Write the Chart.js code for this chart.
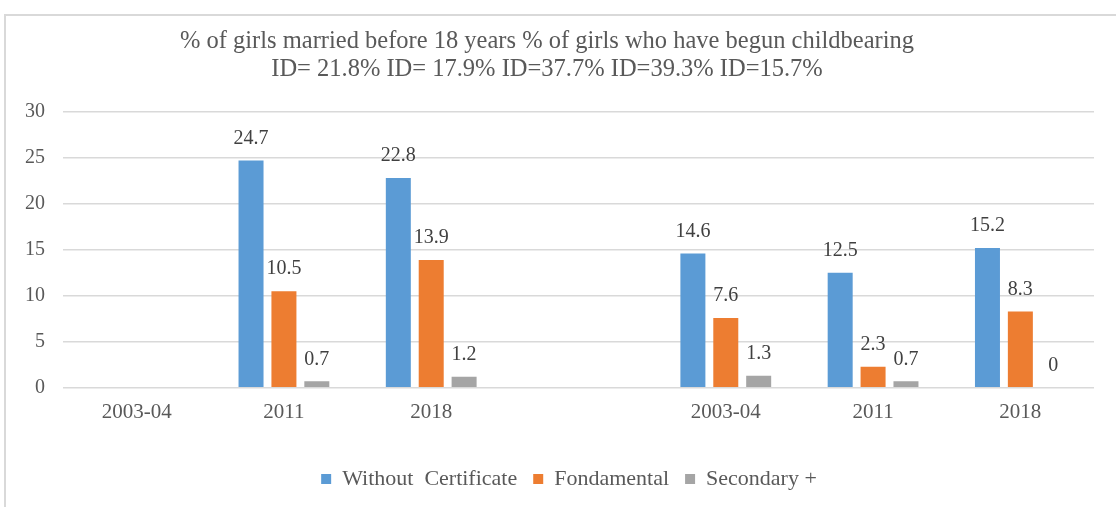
<!DOCTYPE html>
<html>
<head>
<meta charset="utf-8">
<script src="https://cdn.jsdelivr.net/npm/chart.js@4/dist/chart.umd.min.js"></script>
<style>
  html, body { margin: 0; padding: 0; background: #fff; }
  #wrap { position: relative; width: 1116px; height: 507px; }
  #frame { position: absolute; left: 4px; top: 14px; right: 0; bottom: 0;
           border-top: 2px solid #d9d9d9; border-left: 2px solid #d9d9d9; }
  canvas { position: absolute; left: 0; top: 0; }
</style>
</head>
<body>
<div id="wrap">
  <div id="frame"></div>
  <canvas id="chart" width="1116" height="507"></canvas>
</div>
<script>
// categorías (la 4ª vacía separa los dos grupos)
const categories = ['2003-04', '2011', '2018', '', '2003-04', '2011', '2018'];
const withoutCert = [null, 24.7, 22.8, null, 14.6, 12.5, 15.2];
const fondamental = [null, 10.5, 13.9, null, 7.6, 2.3, 8.3];
const secondary = [null, 0.7, 1.2, null, 1.3, 0.7, 0];
const yTicks = [0, 5, 10, 15, 20, 25, 30];

const serif = "'Liberation Serif', 'Times New Roman', serif";
const gray = '#595959';

// etiquetas de valor encima de cada barra
const valueLabels = {
    id: 'valueLabels',
    afterDatasetsDraw(chart) {
        const ctx = chart.ctx;
        ctx.save();
        ctx.font = '20px ' + serif;
        ctx.fillStyle = '#404040';
        ctx.textAlign = 'center';
        ctx.textBaseline = 'middle';
        chart.data.datasets.forEach((ds, i) => {
            const meta = chart.getDatasetMeta(i);
            meta.data.forEach((bar, j) => {
                const v = ds.data[j];
                if (v === null) return;
                ctx.fillText(String(v), bar.x, bar.y - 22);
            });
        });
        ctx.restore();
    }
};

// la leyenda está un poco desplazada a la derecha en el original
const legendShift = {
    id: 'legendShift',
    afterLayout(chart) {
        if (chart.legend) {
            chart.legend.left += 22;
            chart.legend.right += 22;
        }
    }
};

new Chart(document.getElementById('chart'), {
    type: 'bar',
    data: {
        labels: categories,
        datasets: [
            { label: 'Without  Certificate', data: withoutCert, backgroundColor: '#5B9BD5' },
            { label: 'Fondamental', data: fondamental, backgroundColor: '#ED7D31' },
            { label: 'Secondary +', data: secondary, backgroundColor: '#A5A5A5' }
        ]
    },
    options: {
        responsive: false,
        animation: false,
        categoryPercentage: 0.67,
        barPercentage: 0.76,
        layout: { padding: { left: 0, right: 22, top: 28, bottom: 7 } },
        plugins: {
            title: {
                display: true,
                text: ['% of girls married before 18 years % of girls who have begun childbearing',
                       'ID= 21.8% ID= 17.9% ID=37.7% ID=39.3% ID=15.7%'],
                color: gray,
                font: { family: serif, size: 24.5, weight: 'normal', lineHeight: 1.14 },
                padding: { top: 0, bottom: 28 }
            },
            legend: {
                position: 'bottom',
                labels: {
                    color: gray,
                    font: { family: serif, size: 22 },
                    boxWidth: 10,
                    boxHeight: 10,
                    padding: 16
                }
            },
            tooltip: { enabled: false }
        },
        scales: {
            x: {
                grid: { display: false, drawTicks: false },
                border: { display: false },
                afterFit(scale) { scale.height += 15; },
                ticks: { color: gray, font: { family: serif, size: 21 }, padding: 12 }
            },
            y: {
                min: 0,
                max: 30,
                afterBuildTicks(scale) {
                    scale.ticks = yTicks.map(v => ({ value: v }));
                },
                afterFit(scale) { scale.width = 63; },
                grid: { color: '#d9d9d9', lineWidth: 1.5, drawTicks: false },
                border: { display: false },
                ticks: { color: gray, font: { family: serif, size: 20 }, padding: 18 }
            }
        }
    },
    plugins: [valueLabels, legendShift]
});
</script>
</body>
</html>
